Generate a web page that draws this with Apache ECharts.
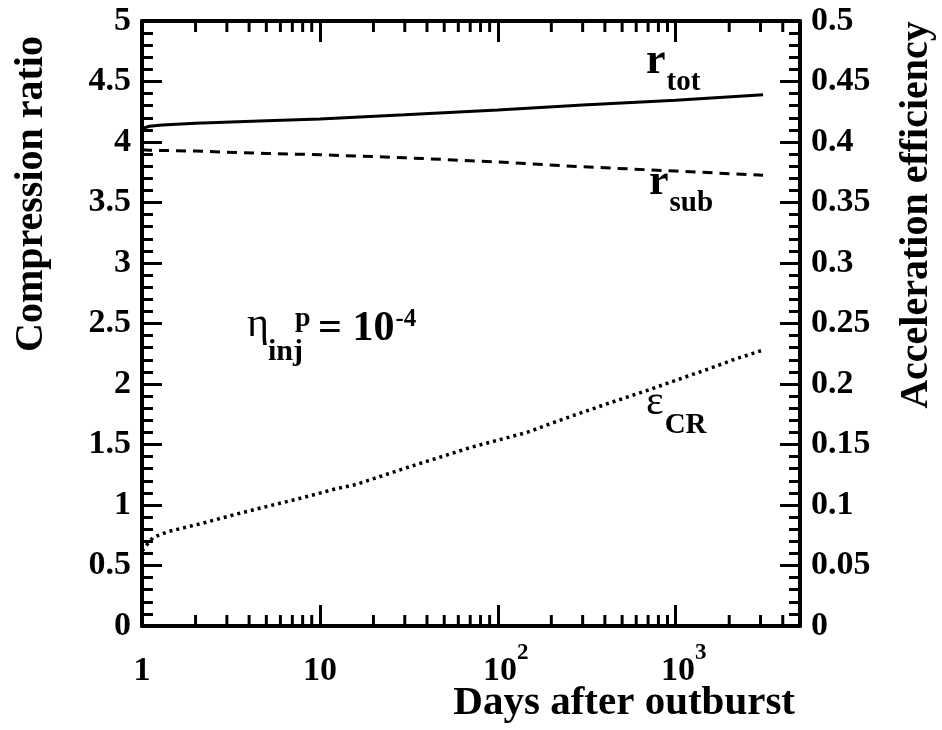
<!DOCTYPE html>
<html>
<head>
<meta charset="utf-8">
<script src="https://cdn.jsdelivr.net/npm/echarts@6/dist/echarts.min.js"></script>
<style>
  html, body { margin: 0; padding: 0; background: #fff; }
  #chart { width: 942px; height: 730px; }
</style>
</head>
<body>
<div id="chart"></div>
<script>
// Time after the outburst (days)
const rDays = [1, 1.1, 1.3, 2, 5, 10, 30, 100, 300, 1000, 3100];
// Total compression ratio
const rTot = [4.11, 4.13, 4.14, 4.155, 4.175, 4.19, 4.225, 4.265, 4.305, 4.345, 4.39];
// Subshock compression ratio
const rSub = [3.935, 3.932, 3.93, 3.925, 3.905, 3.895, 3.87, 3.835, 3.795, 3.76, 3.725];

// CR acceleration efficiency (right axis)
const epsDays = [1, 1.05, 1.15, 1.4, 2.2, 3.3, 5.1, 8, 12, 16, 31, 72, 146, 223, 400, 700, 1000, 1500, 2200, 3100];
const epsCR = [0.062, 0.066, 0.073, 0.078, 0.085, 0.092, 0.099, 0.106, 0.113, 0.117, 0.131, 0.148, 0.160, 0.170, 0.183, 0.195, 0.203, 0.212, 0.221, 0.228];

// Axis ticks
const xMajorTicks = [1, 10, 100, 1000];
const xTickLabels = ['1', '10', '10^2', '10^3'];
const xMinorTicks = [2, 3, 4, 5, 6, 7, 8, 9, 20, 30, 40, 50, 60, 70, 80, 90,
                     200, 300, 400, 500, 600, 700, 800, 900, 2000, 3000, 4000];
const xRange = [1, 5000];
const leftRange = [0, 5];
const rightRange = [0, 0.5];

const SERIF = '"Liberation Serif", "DejaVu Serif", serif';
const MAJOR_LEN = 21;
const MINOR_LEN = 11;

const chart = echarts.init(document.getElementById('chart'), null, { renderer: 'canvas' });

function xLabel(value) {
  const i = xMajorTicks.findIndex(t => Math.abs(t - value) / t < 1e-6);
  if (i < 0) return '';
  const parts = xTickLabels[i].split('^');
  if (parts.length === 1) return '{m|' + parts[0] + '}';
  return '{pad|}{m|' + parts[0] + '}{s|' + parts[1] + '}';
}

function numLabel(v) {
  return String(Number(v.toFixed(3)));
}

const measureCtx = document.createElement('canvas').getContext('2d');
function fontOf(size, weight) {
  return (weight || 'bold') + ' ' + size + 'px ' + SERIF;
}
function textWidth(str, size, weight) {
  measureCtx.font = fontOf(size, weight);
  return measureCtx.measureText(str).width;
}

function txt(str, left, baseline, size, weight, align) {
  return {
    type: 'text',
    x: left,
    y: baseline - 0.34 * size,
    silent: true,
    style: {
      text: str,
      font: fontOf(size, weight),
      fill: '#000',
      textAlign: align || 'left',
      verticalAlign: 'middle',
      textVerticalAlign: 'middle'
    }
  };
}

// a symbol with a subscript placed right after it
function withSub(main, sub, left, baseline, mainSize, subSize, drop, mainWeight) {
  const w = textWidth(main, mainSize, mainWeight);
  return [
    txt(main, left, baseline, mainSize, mainWeight),
    txt(sub, left + w + 1, baseline + drop, subSize)
  ];
}

// eta_inj^p = 10^-4
function injectionLabel(left, baseline) {
  const etaW = textWidth('\u03b7', 42, 'normal');
  const eqLeft = left + 71;
  const eqW = textWidth('= 10', 42);
  return [
    txt('\u03b7', left, baseline - 4, 42, 'normal'),
    txt('inj', left + etaW - 1, baseline + 19, 30),
    txt('p', left + etaW + 26, baseline - 15, 28),
    txt('= 10', eqLeft, baseline, 42),
    txt('-4', eqLeft + eqW + 1, baseline - 15, 25)
  ];
}

const axisLine = { show: true, onZero: false, lineStyle: { color: '#000', width: 4 } };
const tickStyle = { color: '#000', width: 3 };
const tickFont = { fontFamily: SERIF, fontWeight: 'bold', fontSize: 34, color: '#000' };

const option = {
  animation: false,
  backgroundColor: '#fff',
  grid: { left: 142, right: 142, top: 21, bottom: 104, containLabel: false },
  xAxis: [
    {
      type: 'log', logBase: 10, position: 'bottom',
      min: xRange[0], max: xRange[1],
      axisLine: axisLine,
      axisTick: { show: true, inside: true, length: MAJOR_LEN, lineStyle: tickStyle },
      splitLine: { show: false },
      axisLabel: {
        margin: 16,
        showMaxLabel: false,
        formatter: xLabel,
        rich: {
          pad: { width: 16 },
          m: Object.assign({ verticalAlign: 'bottom', lineHeight: 46 }, tickFont),
          s: { fontFamily: SERIF, fontWeight: 'bold', fontSize: 23, color: '#000',
               verticalAlign: 'top', lineHeight: 23 }
        }
      }
    },
    {
      type: 'log', logBase: 10, position: 'top',
      min: xRange[0], max: xRange[1],
      axisLine: axisLine,
      axisTick: { show: true, inside: true, length: MAJOR_LEN, lineStyle: tickStyle },
      axisLabel: { show: false },
      splitLine: { show: false }
    }
  ],
  yAxis: [
    {
      type: 'value', position: 'left',
      min: leftRange[0], max: leftRange[1], interval: 0.5,
      axisLine: axisLine,
      axisTick: { show: true, inside: true, length: 20, lineStyle: tickStyle },
      minorTick: { show: true, splitNumber: 5, length: MINOR_LEN, lineStyle: tickStyle },
      splitLine: { show: false },
      axisLabel: Object.assign({ margin: 11, formatter: numLabel }, tickFont)
    },
    {
      type: 'value', position: 'right',
      min: rightRange[0], max: rightRange[1], interval: 0.05,
      axisLine: axisLine,
      axisTick: { show: true, inside: true, length: 20, lineStyle: tickStyle },
      minorTick: { show: true, splitNumber: 5, length: MINOR_LEN, lineStyle: tickStyle },
      splitLine: { show: false },
      axisLabel: Object.assign({ margin: 11, formatter: numLabel }, tickFont)
    }
  ],
  series: [
    {
      name: 'r_tot', type: 'line', xAxisIndex: 0, yAxisIndex: 0,
      data: rDays.map((d, i) => [d, rTot[i]]),
      showSymbol: false, silent: true,
      lineStyle: { color: '#000', width: 3 }
    },
    {
      name: 'r_sub', type: 'line', xAxisIndex: 0, yAxisIndex: 0,
      data: rDays.map((d, i) => [d, rSub[i]]),
      showSymbol: false, silent: true,
      lineStyle: { color: '#000', width: 3, type: [10, 7] }
    },
    {
      name: 'eps_CR', type: 'line', xAxisIndex: 0, yAxisIndex: 1,
      data: epsDays.map((d, i) => [d, epsCR[i]]),
      showSymbol: false, silent: true,
      lineStyle: { color: '#000', width: 3.5, type: [3, 4] }
    },
    {
      // minor decade ticks on the bottom and top frame
      name: 'minorTicks', type: 'custom', xAxisIndex: 0, yAxisIndex: 0,
      silent: true, clip: false,
      data: xMinorTicks.map(v => [v, leftRange[0]]),
      encode: { x: 0, y: 1 },
      renderItem: function (params, api) {
        const x = api.value(0);
        const b = api.coord([x, leftRange[0]]);
        const t = api.coord([x, leftRange[1]]);
        const st = { stroke: '#000', lineWidth: 3 };
        return {
          type: 'group',
          children: [
            { type: 'line', shape: { x1: b[0], y1: b[1], x2: b[0], y2: b[1] - MINOR_LEN }, style: st },
            { type: 'line', shape: { x1: t[0], y1: t[1], x2: t[0], y2: t[1] + MINOR_LEN }, style: st }
          ]
        };
      }
    }
  ],
  graphic: [
    // axis titles
    {
      type: 'text', x: 32, y: 194, rotation: Math.PI / 2, silent: true,
      style: { text: 'Compression ratio', font: fontOf(40), fill: '#000',
               textAlign: 'center', verticalAlign: 'middle', textVerticalAlign: 'middle' }
    },
    {
      type: 'text', x: 917, y: 215, rotation: Math.PI / 2, silent: true,
      style: { text: 'Acceleration efficiency', font: fontOf(40), fill: '#000',
               textAlign: 'center', verticalAlign: 'middle', textVerticalAlign: 'middle' }
    },
    txt('Days after outburst', 795, 717, 41, 'bold', 'right')
  ]
    .concat(withSub('r', 'tot', 646, 77, 44, 29, 15))
    .concat(withSub('r', 'sub', 649, 198, 44, 29, 15))
    .concat(withSub('\u03b5', 'CR', 646, 417, 42, 29, 18, 'normal'))
    .concat(injectionLabel(247, 343))
};

chart.setOption(option);
</script>
</body>
</html>
